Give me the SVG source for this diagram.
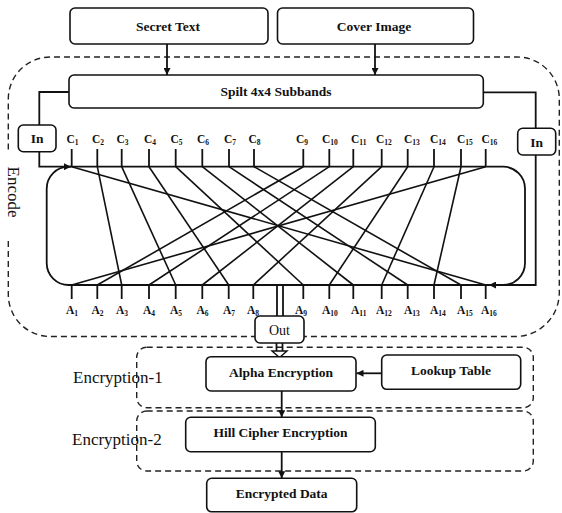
<svg xmlns="http://www.w3.org/2000/svg" width="562" height="513" viewBox="0 0 562 513">
<style>
.box{fill:#fff;stroke:#111;stroke-width:1.6}
.dash{fill:none;stroke:#222;stroke-width:1.4;stroke-dasharray:6 4}
.ln{fill:none;stroke:#111;stroke-width:1.8}
.cx{fill:none;stroke:#111;stroke-width:1.6}
.t{font-family:"Liberation Serif","Times New Roman",serif;font-size:13.5px;font-weight:bold;fill:#111;text-anchor:middle}
.lab{font-family:"Liberation Serif","Times New Roman",serif;font-size:17px;fill:#111}
.cl{font-family:"Liberation Serif","Times New Roman",serif;font-size:11.5px;font-weight:bold;fill:#111}
.sub{font-size:7.5px}
</style>
<defs>
<marker id="ah" viewBox="0 0 10 10" refX="10" refY="5" markerWidth="7" markerHeight="7" markerUnits="userSpaceOnUse" orient="auto">
<path d="M0,0 L10,5 L0,10 z" fill="#111"/>
</marker>
</defs>

<!-- regions -->
<g id="encode-region">
<path class="dash" d="M8.3,241 L8.3,294 A42,42 0 0 0 50.3,336.5 L515,336.5 A44,44 0 0 0 559.3,292.5 L559.3,99 A42,42 0 0 0 517.3,57 L50.3,57 A42,42 0 0 0 8.3,99 L8.3,150"/>
<text class="lab" transform="translate(8,192) rotate(90)" text-anchor="middle">Encode</text>
</g>
<g id="enc1-region">
<rect class="dash" x="136.7" y="347.3" width="396.6" height="60.4" rx="10"/>
<text class="lab" x="73" y="383">Encryption-1</text>
</g>
<g id="enc2-region">
<rect class="dash" x="136.7" y="411" width="396.6" height="60" rx="10"/>
<text class="lab" x="72" y="445">Encryption-2</text>
</g>

<!-- connectors -->
<g id="connectors">
<line class="ln" x1="167" y1="44" x2="167" y2="75" marker-end="url(#ah)"/>
<line class="ln" x1="375" y1="44" x2="375" y2="75" marker-end="url(#ah)"/>
<polyline class="ln" points="69,92 39.3,92 39.3,125"/>
<polyline class="ln" points="39.3,151.7 39.3,166.7 71,166.7" marker-end="url(#ah)"/>
<polyline class="ln" points="483.3,92.3 535.7,92.3 535.7,128.3"/>
<polyline class="ln" points="535.7,155 535.7,285 489,285" marker-end="url(#ah)"/>
<line class="ln" x1="277" y1="285" x2="277" y2="316"/>
<line class="ln" x1="283" y1="285" x2="283" y2="316"/>
<line class="ln" x1="276.5" y1="343" x2="276.5" y2="351"/>
<line class="ln" x1="282.5" y1="343" x2="282.5" y2="351"/>
<polygon points="272,351 287,351 279.5,357.5" fill="#fff" stroke="#111" stroke-width="1.4"/>
<line class="ln" x1="381.7" y1="373.3" x2="356.5" y2="373.3" marker-end="url(#ah)"/>
<line class="ln" x1="281.7" y1="391" x2="281.7" y2="417.3" marker-end="url(#ah)"/>
<line class="ln" x1="281.7" y1="451.7" x2="281.7" y2="478.3" marker-end="url(#ah)"/>
</g>

<!-- nodes -->
<g id="secret-text">
<rect class="box" x="70" y="8" width="198" height="36" rx="5"/>
<text class="t" x="168" y="30.5">Secret Text</text>
</g>
<g id="cover-image">
<rect class="box" x="277.5" y="8" width="196" height="36" rx="5"/>
<text class="t" x="374" y="30.5">Cover Image</text>
</g>
<g id="split">
<rect class="box" x="69" y="75" width="414.3" height="33" rx="5"/>
<text class="t" x="276" y="96">Spilt 4x4 Subbands</text>
</g>
<g id="in-left">
<rect class="box" x="18.3" y="125" width="37.7" height="26.7" rx="5"/>
<text class="t" x="37.2" y="143">In</text>
</g>
<g id="in-right">
<rect class="box" x="517.7" y="128.3" width="38" height="26.7" rx="5"/>
<text class="t" x="536.7" y="146.5">In</text>
</g>

<g id="permutation">
<rect x="46.7" y="166.7" width="478.3" height="118.3" rx="22" fill="none" stroke="#111" stroke-width="1.8"/>
<g class="cx">
<line x1="71.7" y1="166.7" x2="485.7" y2="285"/>
<line x1="97.3" y1="166.7" x2="121.7" y2="285"/>
<line x1="121.7" y1="166.7" x2="175.7" y2="285"/>
<line x1="149" y1="166.7" x2="228.7" y2="285"/>
<line x1="175.7" y1="166.7" x2="303.3" y2="285"/>
<line x1="202.3" y1="166.7" x2="353.3" y2="285"/>
<line x1="229" y1="166.7" x2="407.7" y2="285"/>
<line x1="254" y1="166.7" x2="461" y2="285"/>
<line x1="303.3" y1="166.7" x2="97.3" y2="285"/>
<line x1="329.3" y1="166.7" x2="149" y2="285"/>
<line x1="353.3" y1="166.7" x2="202.3" y2="285"/>
<line x1="381.7" y1="166.7" x2="253.3" y2="285"/>
<line x1="407.7" y1="166.7" x2="329.3" y2="285"/>
<line x1="434" y1="166.7" x2="381.7" y2="285"/>
<line x1="461" y1="166.7" x2="434" y2="285"/>
<line x1="485.7" y1="166.7" x2="71.7" y2="285"/>
</g>
<g class="ln">
<path d="M71.7,149V166.7M97.3,149V166.7M121.7,149V166.7M149,149V166.7M175.7,149V166.7M202.3,149V166.7M229,149V166.7M254,149V166.7M303.3,149V166.7M329.3,149V166.7M353.3,149V166.7M381.7,149V166.7M407.7,149V166.7M434,149V166.7M461,149V166.7M485.7,149V166.7"/>
<path d="M71.7,285V299M97.3,285V299M121.7,285V299M149,285V299M175.7,285V299M202.3,285V299M228.7,285V299M253.3,285V299M303.3,285V299M329.3,285V299M353.3,285V299M381.7,285V299M407.7,285V299M434,285V299M461,285V299M485.7,285V299"/>
</g>
<g class="cl">
<text x="66.5" y="143">C<tspan class="sub" dy="2">1</tspan></text>
<text x="92" y="143">C<tspan class="sub" dy="2">2</tspan></text>
<text x="116.5" y="143">C<tspan class="sub" dy="2">3</tspan></text>
<text x="144" y="143">C<tspan class="sub" dy="2">4</tspan></text>
<text x="170.5" y="143">C<tspan class="sub" dy="2">5</tspan></text>
<text x="197" y="143">C<tspan class="sub" dy="2">6</tspan></text>
<text x="224" y="143">C<tspan class="sub" dy="2">7</tspan></text>
<text x="248.5" y="143">C<tspan class="sub" dy="2">8</tspan></text>
<text x="296" y="143">C<tspan class="sub" dy="2">9</tspan></text>
<text x="322" y="143">C<tspan class="sub" dy="2">10</tspan></text>
<text x="351" y="143">C<tspan class="sub" dy="2">11</tspan></text>
<text x="376" y="143">C<tspan class="sub" dy="2">12</tspan></text>
<text x="404" y="143">C<tspan class="sub" dy="2">13</tspan></text>
<text x="430" y="143">C<tspan class="sub" dy="2">14</tspan></text>
<text x="457" y="143">C<tspan class="sub" dy="2">15</tspan></text>
<text x="481.5" y="143">C<tspan class="sub" dy="2">16</tspan></text>
<text x="66" y="314">A<tspan class="sub" dy="2">1</tspan></text>
<text x="91.5" y="314">A<tspan class="sub" dy="2">2</tspan></text>
<text x="116" y="314">A<tspan class="sub" dy="2">3</tspan></text>
<text x="143" y="314">A<tspan class="sub" dy="2">4</tspan></text>
<text x="170" y="314">A<tspan class="sub" dy="2">5</tspan></text>
<text x="196.5" y="314">A<tspan class="sub" dy="2">6</tspan></text>
<text x="223" y="314">A<tspan class="sub" dy="2">7</tspan></text>
<text x="247" y="314">A<tspan class="sub" dy="2">8</tspan></text>
<text x="295" y="314">A<tspan class="sub" dy="2">9</tspan></text>
<text x="322" y="314">A<tspan class="sub" dy="2">10</tspan></text>
<text x="351" y="314">A<tspan class="sub" dy="2">11</tspan></text>
<text x="376" y="314">A<tspan class="sub" dy="2">12</tspan></text>
<text x="404" y="314">A<tspan class="sub" dy="2">13</tspan></text>
<text x="430" y="314">A<tspan class="sub" dy="2">14</tspan></text>
<text x="457" y="314">A<tspan class="sub" dy="2">15</tspan></text>
<text x="481" y="314">A<tspan class="sub" dy="2">16</tspan></text>
</g>
</g>

<g id="out">
<rect class="box" x="255" y="316" width="49" height="27" rx="5"/>
<text x="279.5" y="334.5" class="t" style="font-weight:normal;font-size:14px">Out</text>
</g>
<g id="alpha-encryption">
<rect class="box" x="206" y="356.7" width="150" height="34.3" rx="5"/>
<text class="t" x="281" y="377">Alpha Encryption</text>
</g>
<g id="lookup-table">
<rect class="box" x="381.7" y="355" width="139" height="34.3" rx="5"/>
<text class="t" x="451" y="374.5">Lookup Table</text>
</g>
<g id="hill-cipher">
<rect class="box" x="185.7" y="417.3" width="189.6" height="34.4" rx="5"/>
<text class="t" x="280.5" y="436.5">Hill Cipher Encryption</text>
</g>
<g id="encrypted-data">
<rect class="box" x="206.7" y="478.3" width="150" height="33.5" rx="5"/>
<text class="t" x="281.7" y="497.5">Encrypted Data</text>
</g>
</svg>
